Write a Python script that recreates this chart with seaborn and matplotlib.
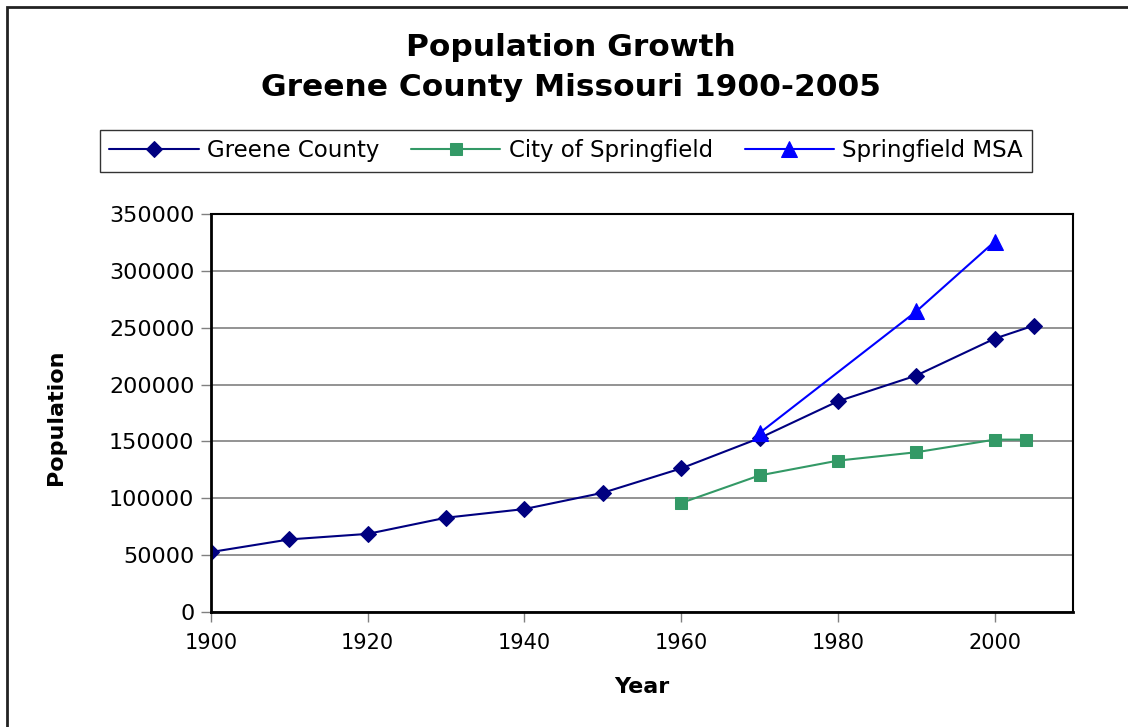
import numpy as np
import pandas as pd
import matplotlib
matplotlib.use("Agg")
import matplotlib.pyplot as plt
import seaborn as sns
from matplotlib.patches import Rectangle

sns.set_style("white")
plt.rcParams['font.family'] = ['DejaVu Sans']
plt.rcParams['text.color'] = 'black'
plt.rcParams['axes.labelcolor'] = 'black'
plt.rcParams['xtick.labelcolor'] = 'black'
plt.rcParams['ytick.labelcolor'] = 'black'

# data
greene_years = [1900, 1910, 1920, 1930, 1940, 1950, 1960, 1970, 1980, 1990, 2000, 2005]
greene_pop = [52713, 63831, 68698, 82929, 90541, 104823, 126276, 152929, 185302, 207949, 240391, 251879]

city_years = [1960, 1970, 1980, 1990, 2000, 2004]
city_pop = [95865, 120096, 133116, 140494, 151580, 151600]

msa_years = [1970, 1990, 2000]
msa_pop = [157400, 264346, 325721]

series = [
    ("Greene County", greene_years, greene_pop, "#000080", "D", 8.5),
    ("City of Springfield", city_years, city_pop, "#339966", "s", 8.5),
    ("Springfield MSA", msa_years, msa_pop, "#0000FF", "^", 11),
]

fig = plt.figure(figsize=(11.28, 7.27), dpi=100)
ax = fig.add_axes([211/1128, 1-612/727, (1073-211)/1128, (612-214)/727])

for name, yrs, pop, col, mk, ms in series:
    df = pd.DataFrame({"Year": yrs, "Population": pop})
    sns.lineplot(data=df, x="Year", y="Population", ax=ax, color=col, marker=mk,
                 markersize=ms, markeredgecolor=col, linewidth=1.5, label=name)

ax.set_xlim(1900, 2010)
ax.set_ylim(0, 350000)
ax.set_xticks(range(1900, 2001, 20))
ax.set_yticks(range(0, 350001, 50000))
ax.yaxis.grid(True, color="#808080", linewidth=1.2)
ax.set_axisbelow(True)
ax.tick_params(axis="both", direction="out", length=7, width=1, color="#808080",
               left=True, bottom=True)
ax.tick_params(axis="x", labelsize=15, pad=8)
ax.tick_params(axis="y", labelsize=16, pad=5)
for s in ax.spines.values():
    s.set_color("black")
    s.set_linewidth(1.5)
ax.spines["left"].set_linewidth(2)
ax.spines["bottom"].set_linewidth(2)

ax.set_xlabel("Year", fontsize=16, fontweight="bold")
ax.set_ylabel("Population", fontsize=16, fontweight="bold")
ax.xaxis.set_label_coords(0.5, (612-677)/398)
ax.yaxis.set_label_coords((66-211)/862, 0.49)

fig.text(571/1128, 1-47/727, "Population Growth", ha="center", va="center",
         fontsize=22.5, fontweight="bold")
fig.text(571/1128, 1-88/727, "Greene County Missouri 1900-2005", ha="center", va="center",
         fontsize=22.5, fontweight="bold")

ax.legend(loc="center", bbox_to_anchor=(566/1128, 1-151/727), bbox_transform=fig.transFigure,
          ncol=3, fontsize=16.5, frameon=True, fancybox=False, edgecolor="black",
          handlelength=3.9, handletextpad=0.35, columnspacing=1.4, borderpad=0.4)
ax.get_legend().get_frame().set_linewidth(1)

fig.patches.append(Rectangle((7/1128, -0.1), 1.2, 1-7/727 + 0.1, transform=fig.transFigure,
                             fill=False, edgecolor="#222222", linewidth=2))

fig.savefig("out.png", dpi=100)
